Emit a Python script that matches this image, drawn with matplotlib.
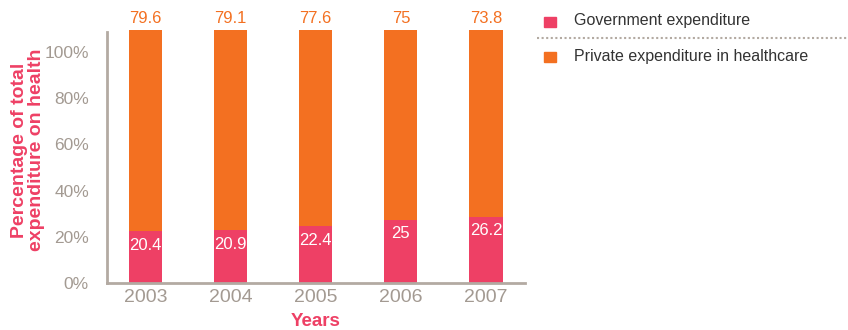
import matplotlib
matplotlib.use("Agg")
import matplotlib.pyplot as plt
from matplotlib.patches import Rectangle
from matplotlib.lines import Line2D
import numpy as np

plt.rcParams['font.family'] = ['Liberation Sans', 'DejaVu Sans']

years = ["2003", "2004", "2005", "2006", "2007"]
govt = [20.4, 20.9, 22.4, 25, 26.2]
private = [79.6, 79.1, 77.6, 75, 73.8]
pct_labels = ["0%", "20%", "40%", "60%", "80%", "100%"]

PINK = "#ee4065"
ORANGE = "#f37021"
AXIS_GREY = "#b3aaa2"
TEXT_GREY = "#a39a92"

W, H = 848, 330
fig = plt.figure(figsize=(W / 100, H / 100), dpi=100)
ax = fig.add_axes([107 / W, 1 - 283 / H, (525 - 107) / W, (283 - 30) / H])

x = np.arange(len(years))
ax.bar(x, govt, width=0.39, color=PINK, edgecolor='none')
ax.bar(x, private, width=0.39, bottom=govt, color=ORANGE, edgecolor='none')

for i in range(len(years)):
    ax.text(x[i], govt[i] - 2.6, f"{govt[i]:g}", ha='center', va='top',
            color='white', fontsize=12)
    ax.text(x[i], govt[i] + private[i] + 1.4, f"{private[i]:g}", ha='center',
            va='bottom', color=ORANGE, fontsize=12, clip_on=False)

ax.set_xlim(-0.452, 4.458)
ax.set_ylim(0, 100)
ax.set_xticks(x)
ax.set_xticklabels(years)
# percent scale sits a bit lower than the bar tops
ax.set_yticks(np.linspace(0, 91.3, 6))
ax.set_yticklabels(pct_labels)
ax.tick_params(axis='both', length=0, colors=TEXT_GREY)
ax.tick_params(axis='x', labelsize=14, pad=4.5)
ax.tick_params(axis='y', labelsize=12.5, pad=13)

for s in ['top', 'right']:
    ax.spines[s].set_visible(False)
for s in ['left', 'bottom']:
    ax.spines[s].set_color(AXIS_GREY)
    ax.spines[s].set_linewidth(2)
ax.spines['left'].set_bounds(0, 99.2)

fig.text(28 / W, 1 - 150 / H, "Percentage of total\nexpenditure on health",
         rotation=90, ha='center', va='center', multialignment='center',
         color=PINK, fontsize=14, fontweight='bold', linespacing=0.95)
fig.text(316 / W, 1 - 322 / H, "Years", ha='center', va='center',
         color=PINK, fontsize=13.5, fontweight='bold')

# legend drawn by hand with a dotted divider
fig.add_artist(Rectangle((544 / W, 1 - 27 / H), 12 / W, 10 / H,
                         transform=fig.transFigure, color=PINK))
fig.add_artist(Rectangle((544 / W, 1 - 62 / H), 12 / W, 10 / H,
                         transform=fig.transFigure, color=ORANGE))
fig.text(574 / W, 1 - 21 / H, "Government expenditure", ha='left',
         va='center', color='#333333', fontsize=11.5)
fig.text(574 / W, 1 - 57 / H, "Private expenditure in healthcare", ha='left',
         va='center', color='#333333', fontsize=11.5)
fig.add_artist(Line2D([537 / W, 1.0], [1 - 38 / H, 1 - 38 / H],
                      transform=fig.transFigure, color=AXIS_GREY,
                      linestyle=(0, (1, 1.2)), linewidth=1.5))

fig.savefig("out.png", dpi=100)
